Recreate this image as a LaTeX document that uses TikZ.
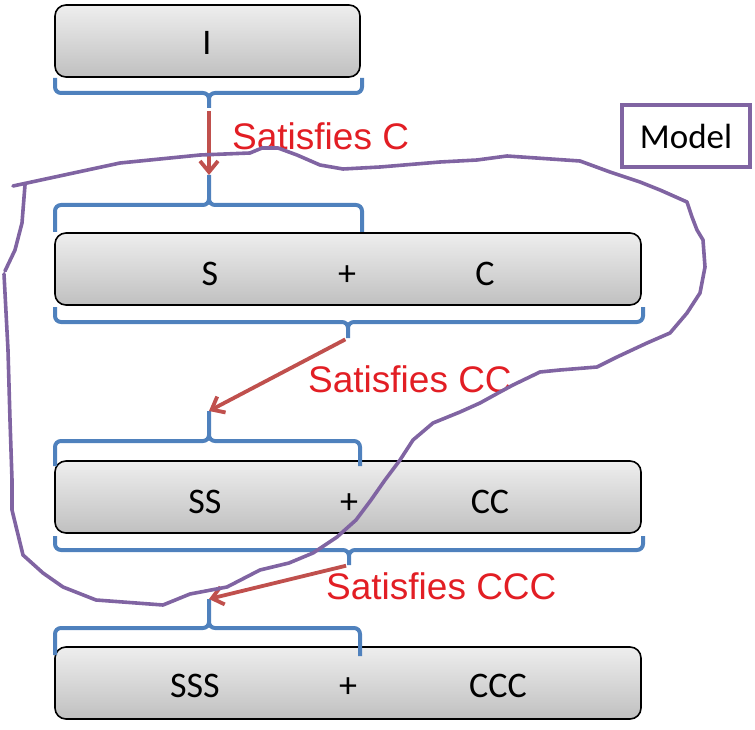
\documentclass[tikz,border=0pt]{standalone}
\usepackage{fontspec}
\setmainfont{Carlito}
\newfontfamily\satfont{Liberation Sans}
\usetikzlibrary{arrows.meta}
\definecolor{modelpurple}{RGB}{128,100,162}
\definecolor{braceblue}{RGB}{79,129,189}
\definecolor{arrowred}{RGB}{192,80,77}
\definecolor{satred}{RGB}{226,30,36}
\definecolor{boxtop}{RGB}{238,238,238}
\definecolor{boxbot}{RGB}{192,192,192}
\begin{document}
\begin{tikzpicture}[
    x=1pt, y=-1pt,
    box/.style={draw=black, line width=1.6pt, rounded corners=11pt, top color=boxtop, bottom color=boxbot, minimum height=72pt, inner sep=0pt},
    part/.style={anchor=base, font=\fontsize{36}{42}\selectfont, inner sep=0pt},
    bracket/.style={draw=braceblue, line width=4pt, rounded corners=6pt},
    sat/.style={-{Straight Barb[length=11pt,width=18pt]}, draw=arrowred, line width=3.8pt, shorten <=3pt},
    satlabel/.style={anchor=base west, text=satred, font=\satfont\fontsize{37}{44}\selectfont, inner sep=0pt},
    model/.style={draw=modelpurple, line width=3.5pt, minimum width=128pt, minimum height=62pt, font=\fontsize{35}{40}\selectfont},
    modelline/.style={draw=modelpurple, line width=3.6pt, line join=round, line cap=round}
]
    \useasboundingbox (0,0) rectangle (755,730);

    % Boxes
    \node[box, minimum width=305pt] (iBox) at (207.5,41) {};
    \node[part] (iText) at (207,55) {I};

    \node[box, minimum width=586pt] (scBox) at (348,269) {};
    \node[part] (sText) at (210,285) {S};
    \node[part] (scPlus) at (347,285) {+};
    \node[part] (cText) at (485,285) {C};

    \node[box, minimum width=586pt] (ssBox) at (348,497) {};
    \node[part] (ssText) at (205,513) {SS};
    \node[part] (ssPlus) at (349,513) {+};
    \node[part] (ccText) at (490,513) {CC};

    \node[box, minimum width=586pt] (sssBox) at (348,683) {};
    \node[part] (sssText) at (195,697) {SSS};
    \node[part] (sssPlus) at (348,697) {+};
    \node[part] (cccText) at (498,697) {CCC};

    % Braces
    \draw[bracket] (55,78) -- (55,93) -- (209,93) -- (209,108) coordinate (iTip) (209,108) -- (209,93) -- (362,93) -- (362,78);
    \draw[bracket] (55,232) -- (55,205) -- (209,205) -- (209,175) coordinate (scTop) (209,175) -- (209,205) -- (362,205) -- (362,232);
    \draw[bracket] (55,307) -- (55,322) -- (348,322) -- (348,338) coordinate (scBot) (348,338) -- (348,322) -- (643,322) -- (643,307);
    \draw[bracket] (55,466) -- (55,441) -- (209,441) -- (209,411) coordinate (ssTop) (209,411) -- (209,441) -- (360,441) -- (360,466);
    \draw[bracket] (55,536) -- (55,550) -- (349,550) -- (349,565) coordinate (ssBot) (349,565) -- (349,550) -- (643,550) -- (643,536);
    \draw[bracket] (55,655) -- (55,628) -- (209,628) -- (209,599) coordinate (sssTop) (209,599) -- (209,628) -- (360,628) -- (360,656);

    % Steps
    \draw[sat] (iTip) -- (scTop);
    \draw[sat] (scBot) -- (ssTop);
    \draw[sat] (ssBot) -- (sssTop);
    \node[satlabel] (satC) at (232,150) {Satisfies C};
    \node[satlabel] (satCC) at (308,392) {Satisfies CC};
    \node[satlabel] (satCCC) at (326,599) {Satisfies CCC};

    % Model
    \node[model] (modelBox) at (686,136) {Model};
    \draw[modelline] (13,186) -- (120,163) -- (200,155) -- (250,153) -- (262,148) -- (278,148) -- (297,155)
        -- (320,165) -- (343,169) -- (380,167) -- (440,162) -- (477,160) -- (507,156) -- (580,161)
        -- (610,172) -- (640,182) -- (660,190) -- (687,202) -- (692,217) -- (697,230) -- (703,240)
        -- (705,267) -- (700,293) -- (687,313) -- (670,333) -- (647,343) -- (617,357) -- (597,367)
        -- (560,370) -- (540,372) -- (513,385) -- (500,392) -- (480,403) -- (460,412) -- (433,423)
        -- (413,440) -- (400,460) -- (385,480) -- (371,500) -- (356,520) -- (337,537) -- (313,553)
        -- (289,563) -- (260,570) -- (227,587) -- (190,594) -- (163,605) -- (96,600) -- (63,587)
        -- (43,573) -- (23,555) -- (12,510) -- (12,480) -- (10,420) -- (8,350) -- (4,274)
        (5,271) -- (15,250) -- (22,223) -- (25,185);

\end{tikzpicture}
\end{document}
